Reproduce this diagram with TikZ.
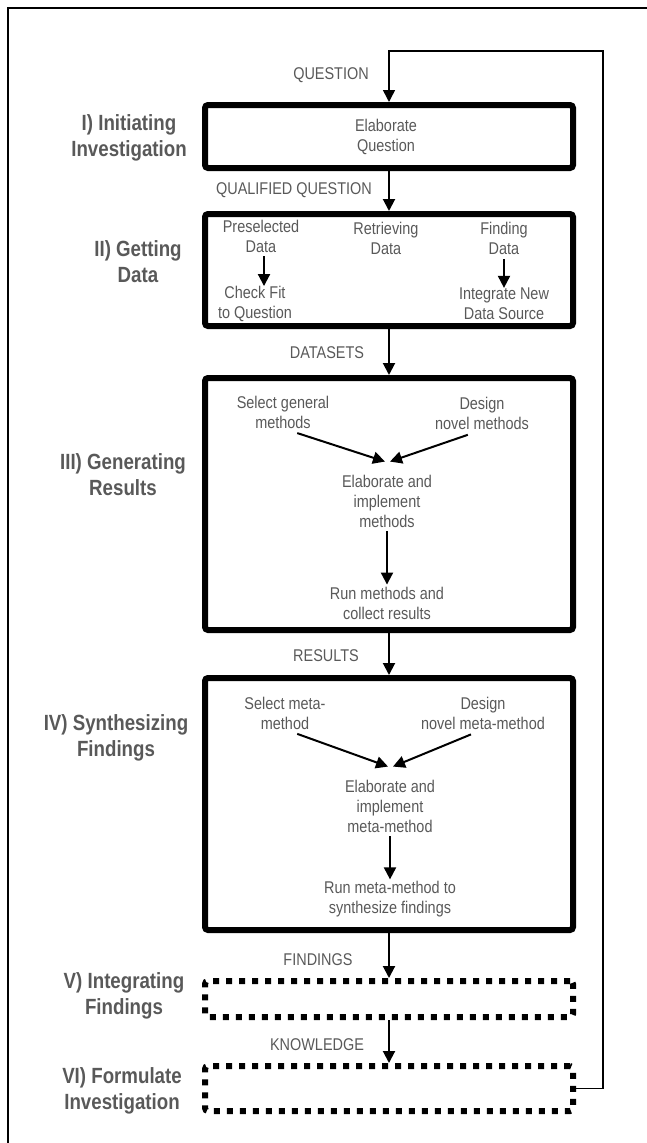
\documentclass[tikz,border=0pt]{standalone}
\usepackage{fontspec}
\setmainfont{Liberation Sans}[FakeStretch=0.85]
\usetikzlibrary{arrows.meta}
\definecolor{textgray}{RGB}{89,89,89}

\begin{document}
\begin{tikzpicture}[x=1pt, y=-1pt]


\tikzstyle{stage_box} = [draw, line width=6, rounded corners=3, minimum width=368, inner sep=0]

\tikzstyle{open_box} = [stage_box, dash pattern=on 6pt off 7pt]

\tikzstyle{stage_label} = [align=center, text=textgray, inner sep=0, font=\bfseries\fontsize{22}{26}\selectfont]

\tikzstyle{step_text} = [align=center, text=textgray, inner sep=0, font=\fontsize{17}{20}\selectfont]

\tikzstyle{flow_arrow} = [draw, line width=2, -{Triangle[width=12pt, length=12pt]}]

\tikzstyle{back_line} = [draw, line width=1.5]


\useasboundingbox (0,0) rectangle (647,1143);
\draw[line width=1.5] (8,1143) -- (8,8) -- (647,8);

\node[stage_box, minimum height=63] (b1) at (389, 136.5) {};
\node[stage_box, minimum height=112] (b2) at (389, 270) {};
\node[stage_box, minimum height=252] (b3) at (389, 504) {};
\node[stage_box, minimum height=252] (b4) at (389, 804) {};
\node[open_box, minimum height=36] (b5) at (389, 999) {};
\node[open_box, minimum height=45] (b6) at (389, 1088.5) {};

\node[stage_label] (l1) at (129, 138) {I) Initiating\\Investigation};
\node[stage_label] (l2) at (138, 262) {II) Getting\\Data};
\node[stage_label] (l3) at (123, 475) {III) Generating\\Results};
\node[stage_label] (l4) at (116, 738) {IV) Synthesizing\\Findings};
\node[stage_label] (l5) at (124, 996) {V) Integrating\\Findings};
\node[stage_label] (l6) at (122, 1091) {VI) Formulate\\Investigation};

\node[step_text] (q0) at (331, 75) {QUESTION};
\node[step_text] (q1) at (294, 190) {QUALIFIED QUESTION};
\node[step_text] (q2) at (327, 353) {DATASETS};
\node[step_text] (q3) at (326, 656) {RESULTS};
\node[step_text] (q4) at (318, 960) {FINDINGS};
\node[step_text] (q5) at (317, 1045) {KNOWLEDGE};

\node[step_text] (elab_q) at (386, 136.5) {Elaborate\\Question};

\node[step_text] (pre_sel) at (261, 236) {Preselected\\Data};
\node[step_text] (retr) at (386, 238) {Retrieving\\Data};
\node[step_text] (find) at (504, 238) {Finding\\Data};
\node[step_text] (chk) at (255, 304) {Check Fit\\to Question};
\node[step_text] (integ) at (504, 304) {Integrate New\\Data Source};

\node[step_text] (sel_gen) at (283, 412) {Select general\\methods};
\node[step_text] (des_nov) at (482, 413.5) {Design\\novel methods};
\node[step_text] (elab_m) at (387, 501) {Elaborate and\\implement\\methods};
\node[step_text] (run_m) at (387, 603) {Run methods and\\collect results};

\node[step_text] (sel_meta) at (285, 713) {Select meta-\\method};
\node[step_text] (des_meta) at (483, 713) {Design\\novel meta-method};
\node[step_text] (elab_meta) at (390, 806) {Elaborate and\\implement\\meta-method};
\node[step_text] (run_meta) at (390, 899.5) {Run meta-method to\\synthesize findings};

\coordinate (fb_top) at (603, 51);


\draw[flow_arrow] (b1) -- (b2);
\draw[flow_arrow] (b2) -- (b3);
\draw[flow_arrow] (b3) -- (b4);
\draw[flow_arrow] (b4) -- (b5);
\draw[flow_arrow] (b5) -- (b6);

\draw[back_line, -{Triangle[width=12pt, length=12pt]}] (b6.east) -| (fb_top) -| (b1.north);

\draw[flow_arrow, shorten <=4] ([xshift=3]pre_sel.south) -- ([xshift=3]pre_sel.south |- chk.north);
\draw[flow_arrow, shorten <=5] (find) -- (integ);

\draw[flow_arrow, shorten <=15] (sel_gen.south) -- ([xshift=-2, yshift=13]elab_m.north);
\draw[flow_arrow, shorten <=15] (des_nov.south) -- ([xshift=3, yshift=13]elab_m.north);
\draw[flow_arrow, shorten <=4, shorten >=2] (elab_m) -- (run_m);

\draw[flow_arrow, shorten <=13] (sel_meta.south) -- ([xshift=-2, yshift=13]elab_meta.north);
\draw[flow_arrow, shorten <=13] (des_meta.south) -- ([xshift=3, yshift=13]elab_meta.north);
\draw[flow_arrow, shorten <=4, shorten >=2] (elab_meta) -- (run_meta);


\end{tikzpicture}
\end{document}
